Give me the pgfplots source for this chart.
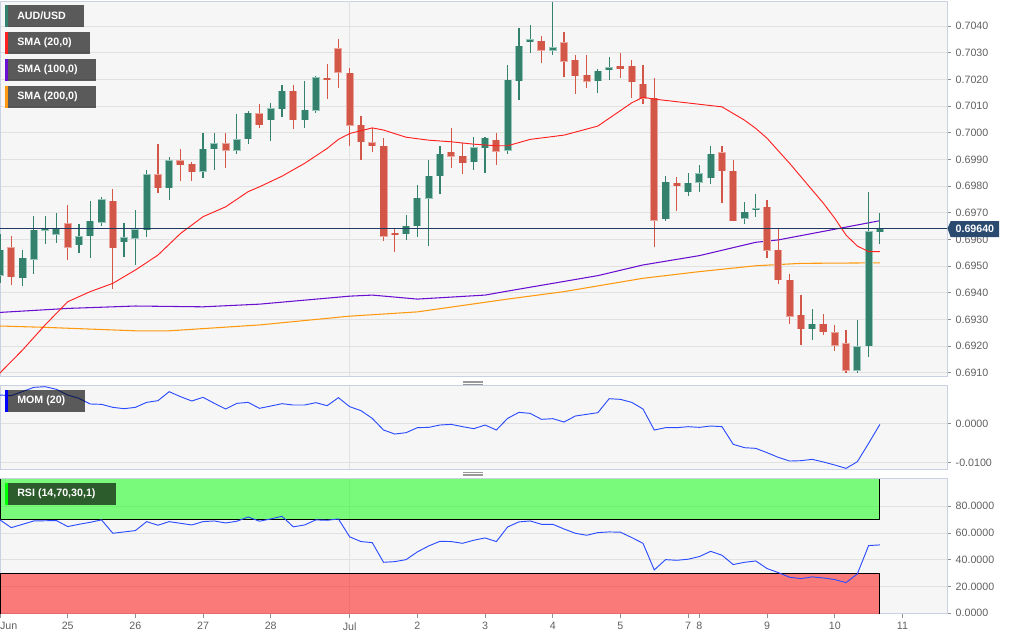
\documentclass[border=0pt]{standalone}
\usepackage{fontspec}
\setmainfont{Liberation Sans}
\usepackage{pgfplots}
\usepackage{pgfplotstable}
\pgfplotsset{compat=1.18}

\definecolor{upc}{HTML}{34826E}
\definecolor{upedge}{HTML}{97C7BA}
\definecolor{dnc}{HTML}{D35748}
\definecolor{dnedge}{HTML}{EBA79E}
\definecolor{smaA}{HTML}{FF2020}
\definecolor{smaB}{HTML}{6A10D0}
\definecolor{smaC}{HTML}{FF9A10}
\definecolor{indblue}{HTML}{2B4CFF}
\definecolor{pricenavy}{HTML}{1F3B63}
\definecolor{tagnavy}{HTML}{2B4A6F}
\definecolor{panelbg}{HTML}{F6F6F6}
\definecolor{bordc}{HTML}{C9D1E3}
\definecolor{gridc}{HTML}{E1E1E1}
\definecolor{tickc}{HTML}{606060}

% 4h candles, k = candle index (6 per day, k=0 -> Jun 24 00:00)
\pgfplotstableread{
k o h l c
0 0.69466 0.69622 0.69435 0.69560
2 0.69456 0.69562 0.69426 0.69529
3 0.69526 0.69689 0.69472 0.69635
4 0.69635 0.69689 0.69581 0.69639
5 0.69620 0.69701 0.69587 0.69639
7 0.69581 0.69660 0.69551 0.69612
8 0.69615 0.69742 0.69531 0.69670
9 0.69666 0.69762 0.69651 0.69750
11 0.69592 0.69660 0.69535 0.69607
12 0.69605 0.69712 0.69506 0.69637
13 0.69637 0.69862 0.69611 0.69842
15 0.69795 0.69910 0.69750 0.69896
18 0.69856 0.70000 0.69832 0.69939
19 0.69941 0.70000 0.69862 0.69960
21 0.69935 0.70072 0.69921 0.69975
22 0.69979 0.70082 0.69960 0.70075
24 0.70050 0.70110 0.69970 0.70091
25 0.70091 0.70181 0.70060 0.70157
27 0.70050 0.70194 0.70019 0.70085
28 0.70085 0.70212 0.70075 0.70206
36 0.69622 0.69694 0.69600 0.69650
37 0.69651 0.69804 0.69610 0.69754
38 0.69754 0.69900 0.69576 0.69837
39 0.69839 0.69952 0.69772 0.69920
42 0.69891 0.69985 0.69862 0.69944
43 0.69944 0.69987 0.69850 0.69980
45 0.69935 0.70254 0.69922 0.70197
46 0.70197 0.70395 0.70122 0.70326
47 0.70341 0.70404 0.70301 0.70350
49 0.70310 0.70491 0.70291 0.70320
53 0.70195 0.70241 0.70151 0.70231
54 0.70235 0.70282 0.70197 0.70244
59 0.69679 0.69841 0.69670 0.69816
61 0.69781 0.69850 0.69764 0.69812
62 0.69816 0.69881 0.69779 0.69847
63 0.69831 0.69951 0.69810 0.69920
66 0.69679 0.69741 0.69660 0.69701
67 0.69712 0.69772 0.69682 0.69716
72 0.69266 0.69341 0.69222 0.69282
76 0.69110 0.69300 0.69100 0.69197
77 0.69201 0.69781 0.69162 0.69629
78 0.69629 0.69701 0.69582 0.69641
}\upcandles

\pgfplotstableread{
k o h l c
1 0.69570 0.69615 0.69431 0.69460
6 0.69658 0.69732 0.69525 0.69570
10 0.69745 0.69791 0.69416 0.69570
14 0.69844 0.69960 0.69775 0.69795
16 0.69896 0.69941 0.69821 0.69881
17 0.69882 0.69891 0.69821 0.69855
20 0.69960 0.70000 0.69866 0.69935
23 0.70072 0.70110 0.70019 0.70031
26 0.70156 0.70181 0.70016 0.70050
29 0.70205 0.70260 0.70127 0.70200
30 0.70316 0.70354 0.70170 0.70229
31 0.70225 0.70241 0.69951 0.70029
32 0.70029 0.70063 0.69900 0.69966
33 0.69962 0.70019 0.69929 0.69952
34 0.69950 0.69982 0.69595 0.69612
35 0.69624 0.69637 0.69551 0.69620
40 0.69929 0.70019 0.69870 0.69914
41 0.69914 0.69962 0.69848 0.69889
44 0.69972 0.70001 0.69881 0.69932
48 0.70345 0.70362 0.70260 0.70310
50 0.70339 0.70379 0.70210 0.70270
51 0.70272 0.70291 0.70147 0.70214
52 0.70216 0.70291 0.70170 0.70194
55 0.70250 0.70301 0.70207 0.70241
56 0.70250 0.70272 0.70132 0.70191
57 0.70182 0.70254 0.70110 0.70129
58 0.70129 0.70204 0.69570 0.69672
60 0.69810 0.69832 0.69707 0.69802
64 0.69926 0.69951 0.69735 0.69857
65 0.69857 0.69900 0.69672 0.69672
68 0.69720 0.69750 0.69532 0.69560
69 0.69560 0.69641 0.69431 0.69450
70 0.69447 0.69472 0.69285 0.69312
71 0.69316 0.69391 0.69204 0.69266
73 0.69282 0.69322 0.69241 0.69254
74 0.69251 0.69282 0.69182 0.69204
75 0.69210 0.69262 0.69100 0.69110
}\dncandles

\pgfplotstableread{
k v
0 0.69099
2 0.69185
4 0.69279
6 0.69366
8 0.69404
10 0.69435
12 0.69485
14 0.69541
16 0.69622
18 0.69685
20 0.69722
22 0.69779
23 0.69797
25 0.69837
27 0.69885
29 0.69941
30 0.69975
31 0.69997
33 0.70018
34 0.70010
36 0.69983
38 0.69972
40 0.69966
42 0.69957
44 0.69951
45 0.69951
47 0.69975
50 0.69991
53 0.70025
56 0.70112
57 0.70133
58 0.70126
64 0.70097
66 0.70047
67 0.70016
68 0.69979
70 0.69885
71 0.69835
72 0.69785
73 0.69735
74 0.69679
75 0.69616
76 0.69575
77 0.69554
78 0.69554
}\smatwenty

\pgfplotstableread{
k v
0 0.69326
6 0.69341
12 0.69350
18 0.69347
23 0.69357
31 0.69387
33 0.69391
37 0.69376
43 0.69391
45 0.69406
53 0.69464
57 0.69504
62 0.69539
67 0.69589
69 0.69598
74 0.69638
78 0.69670
}\smahundred

\pgfplotstableread{
k v
0 0.69275
4 0.69270
12 0.69257
15 0.69257
23 0.69279
31 0.69312
37 0.69328
45 0.69376
50 0.69404
57 0.69454
62 0.69479
67 0.69501
71 0.69510
78 0.69512
}\smatwohundred

\pgfplotstableread{
k v
0 0.00726
1 0.00709
3 0.00923
4 0.00940
5 0.00872
6 0.00726
7 0.00641
8 0.00496
9 0.00487
10 0.00410
11 0.00376
12 0.00410
13 0.00538
14 0.00581
15 0.00812
16 0.00684
17 0.00573
18 0.00667
19 0.00513
20 0.00368
21 0.00513
22 0.00538
23 0.00385
24 0.00444
25 0.00504
26 0.00470
27 0.00470
28 0.00530
29 0.00453
30 0.00658
31 0.00427
32 0.00325
33 0.00128
34 -0.00171
35 -0.00274
36 -0.00239
37 -0.00111
38 -0.00103
39 -0.00043
40 -0.00026
41 -0.00085
42 -0.00137
43 -0.00043
44 -0.00171
45 0.00128
46 0.00282
47 0.00256
48 0.00103
49 0.00120
50 0.00034
51 0.00188
52 0.00231
53 0.00274
54 0.00632
55 0.00615
56 0.00538
57 0.00368
58 -0.00171
59 -0.00111
60 -0.00111
61 -0.00085
62 -0.00103
63 -0.00068
64 -0.00085
65 -0.00538
66 -0.00624
67 -0.00641
68 -0.00752
69 -0.00872
70 -0.00966
71 -0.00957
72 -0.00923
73 -0.00991
74 -0.01068
75 -0.01154
76 -0.00983
77 -0.00513
78 -0.00026
}\momdata

\pgfplotstableread{
k v
0 69.8
1 64.0
3 69.0
5 69.3
6 64.8
7 66.5
8 68.0
9 69.8
10 59.8
12 61.8
13 68.5
14 65.8
15 68.5
17 66.0
18 68.5
19 69.0
20 67.5
21 68.8
22 72.0
23 68.8
24 70.5
25 72.5
26 64.6
27 66.0
28 69.8
29 69.5
30 70.5
31 57.1
32 53.6
33 52.8
34 38.1
35 38.6
36 40.1
37 45.9
38 50.3
39 53.8
40 53.6
41 52.3
42 54.6
43 56.3
44 53.6
45 64.5
46 68.3
47 69.0
48 66.5
49 66.5
50 63.0
51 59.8
52 58.3
53 60.3
54 60.8
55 60.6
56 56.6
57 52.3
58 32.4
59 40.1
60 39.6
61 40.4
62 42.4
63 46.3
64 43.4
65 36.4
66 38.1
67 39.1
68 33.4
69 30.4
70 26.9
71 25.9
72 27.2
73 26.4
74 25.2
75 22.9
76 29.4
77 50.6
78 51.1
}\rsidata

\pgfplotsset{
  panel/.style={
    scale only axis, anchor=north west,
    xmin=0, xmax=83.95,
    axis background/.style={fill=panelbg},
    axis line style={draw=bordc, line width=0.75pt},
    ymajorgrids, grid style={draw=gridc, line width=0.6pt},
    yticklabel pos=right, ytick pos=right, tick align=outside,
    major tick length=3pt,
    tick style={draw=tickc!70, line width=0.6pt},
    ticklabel style={font=\fontsize{8}{9}\selectfont, text=tickc},
    /pgf/number format/assume math mode=true,
    scaled y ticks=false,
    yticklabel={\pgfmathprintnumber[fixed,fixed zerofill,precision=4]{\tick}},
    clip mode=individual,
  },
  wick/.style={draw=none, error bars/.cd, y dir=both, y explicit,
    error mark=none, error bar style={draw=#1, line width=0.9pt}},
  body/.style 2 args={draw=none, error bars/.cd, y dir=both, y explicit,
    error mark=none, error bar style={draw=#1, line width=#2}},
}

\newcommand{\candles}[3]{%
  \addplot[wick=#2] table[x=k, y expr={(\thisrow{h}+\thisrow{l})/2},
    y error expr={(\thisrow{h}-\thisrow{l})/2}] {#1};
  \addplot[body={#3}{6pt}] table[x=k, y expr={(\thisrow{o}+\thisrow{c})/2},
    y error expr={max(abs(\thisrow{o}-\thisrow{c})/2,0.00002)+0.000018}] {#1};
  \addplot[body={#2}{4.6pt}] table[x=k, y expr={(\thisrow{o}+\thisrow{c})/2},
    y error expr={max(abs(\thisrow{o}-\thisrow{c})/2,0.00002)}] {#1};
}

\begin{document}
\begin{tikzpicture}
\path[use as bounding box] (0pt,0pt) rectangle (768pt,-480pt);

% ---- price panel
\begin{axis}[panel, at={(0pt,-0.75pt)}, width=710.25pt, height=281.25pt,
  ymin=0.690875, ymax=0.70494, xtick=\empty,
  ytick={0.691,0.692,0.693,0.694,0.695,0.696,0.697,0.698,0.699,0.700,0.701,0.702,0.703,0.704},
]
\addplot[gridc, line width=0.6pt] coordinates {(31,0.690875) (31,0.70494)};
\addplot[smaC, line width=0.8pt] table[x=k, y=v] {\smatwohundred};
\addplot[smaB, line width=0.8pt] table[x=k, y=v] {\smahundred};
\candles{\upcandles}{upc}{upedge}
\candles{\dncandles}{dnc}{dnedge}
\addplot[smaA, line width=0.7pt] table[x=k, y=v] {\smatwenty};
\addplot[pricenavy, line width=0.75pt] coordinates {(0,0.6964) (83.95,0.6964)};
\end{axis}

% ---- momentum panel
\begin{axis}[panel, at={(0pt,-289.3pt)}, width=710.25pt, height=62.7pt,
  ymin=-0.01179, ymax=0.00964, xtick=\empty, ytick={-0.01,0},
]
\addplot[gridc, line width=0.6pt] coordinates {(31,-0.01179) (31,0.00964)};
\addplot[indblue, line width=0.7pt] table[x=k, y=v] {\momdata};
\end{axis}

% ---- RSI panel
\begin{axis}[panel, at={(0pt,-358.7pt)}, width=710.25pt, height=101.55pt,
  ymin=-0.3, ymax=100.9, ytick={0,20,40,60,80},
  xtick={0,6,12,18,24,31,37,43,49,55,61,62,68,74,80},
  xticklabels={\rlap{Jun},25,26,27,28,Jul,2,3,4,5,7,8,9,10,11},
  xtick pos=bottom,
]
\addplot[gridc, line width=0.6pt] coordinates {(31,-0.3) (31,100.9)};
\addplot[draw=none, fill={rgb,255:red,0;green,255;blue,0}, fill opacity=0.5]
  coordinates {(0,70) (78,70) (78,100) (0,100)} -- cycle;
\addplot[draw=none, fill={rgb,255:red,255;green,0;blue,0}, fill opacity=0.5]
  coordinates {(0,-0.3) (78,-0.3) (78,30) (0,30)} -- cycle;
\addplot[black, line width=0.75pt] coordinates {(0,100) (0,70) (78,70) (78,100)};
\addplot[black, line width=0.75pt] coordinates {(0,-0.3) (0,30) (78,30) (78,-0.3)};
\addplot[indblue, line width=0.7pt] table[x=k, y=v] {\rsidata};
\end{axis}

% ---- tags
\tikzset{tagtext/.style={anchor=west, text=white, inner sep=0pt,
  font=\bfseries\fontsize{8}{9}\selectfont}}
\fill[black, fill opacity=0.63] (3.75pt,-3.75pt) rectangle (63pt,-20.25pt);
\fill[upc] (3.75pt,-3.75pt) rectangle (5.8pt,-20.25pt);
\node[tagtext] at (12.75pt,-12pt) {AUD/USD};
\fill[black, fill opacity=0.63] (3.75pt,-24pt) rectangle (67.5pt,-40.5pt);
\fill[smaA] (3.75pt,-24pt) rectangle (5.8pt,-40.5pt);
\node[tagtext] at (12.75pt,-32.25pt) {SMA (20,0)};
\fill[black, fill opacity=0.63] (3.75pt,-44.25pt) rectangle (72pt,-60.75pt);
\fill[smaB] (3.75pt,-44.25pt) rectangle (5.8pt,-60.75pt);
\node[tagtext] at (12.75pt,-52.5pt) {SMA (100,0)};
\fill[black, fill opacity=0.63] (3.75pt,-64.5pt) rectangle (72pt,-81pt);
\fill[smaC] (3.75pt,-64.5pt) rectangle (5.8pt,-81pt);
\node[tagtext] at (12.75pt,-72.75pt) {SMA (200,0)};
\fill[black, fill opacity=0.63] (3.75pt,-292.5pt) rectangle (63.75pt,-309pt);
\fill[blue] (3.75pt,-292.5pt) rectangle (5.8pt,-309pt);
\node[tagtext] at (12.75pt,-300.75pt) {MOM (20)};
\fill[black, fill opacity=0.63] (3.75pt,-362.25pt) rectangle (87pt,-378.75pt);
\fill[green] (3.75pt,-362.25pt) rectangle (5.8pt,-378.75pt);
\node[tagtext] at (12.75pt,-370.5pt) {RSI (14,70,30,1)};

% current price tag
\fill[tagnavy] (710.6pt,-171.2pt) -- (713pt,-165.9pt) -- (749.25pt,-165.9pt)
  -- (749.25pt,-177.9pt) -- (713pt,-177.9pt) -- cycle;
\node[tagtext] at (716.5pt,-171.6pt) {0.69640};

% panel resize handles
\foreach \yy in {285.9,287.0,288.1,354.4,355.5,356.6}
  \draw[gray!80, line width=0.45pt] (347.3pt,-\yy pt) -- (362.3pt,-\yy pt);
\end{tikzpicture}
\end{document}
